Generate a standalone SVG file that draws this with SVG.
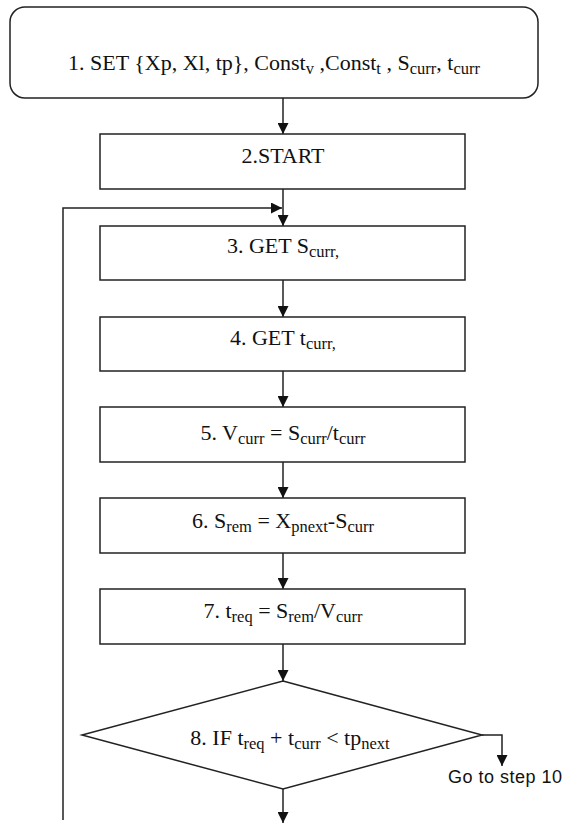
<svg xmlns="http://www.w3.org/2000/svg" width="569" height="823" viewBox="0 0 569 823">
<style>
  .box{fill:#fff;stroke:#222;stroke-width:1.5}
  .t{font-family:"Liberation Serif","Times New Roman",serif;font-size:22px;fill:#111}
  .s{font-size:16.5px}
  .lbl{font-family:"Liberation Sans",Arial,sans-serif;font-size:18px;fill:#111}
  .c{fill:none;stroke:#222;stroke-width:1.5}
</style>
<defs>
  <marker id="ah" markerUnits="userSpaceOnUse" markerWidth="11" markerHeight="11" viewBox="0 0 10 10" refX="10" refY="5" orient="auto">
    <path d="M0,0 L10,5 L0,10 z" fill="#111"/>
  </marker>
</defs>
<rect width="569" height="823" fill="#fff"/>
<g id="connectors">
  <path class="c" d="M283,98 V134" marker-end="url(#ah)"/>
  <path class="c" d="M283,189 V226" marker-end="url(#ah)"/>
  <path class="c" d="M63,820 V208 H282" marker-end="url(#ah)"/>
  <path class="c" d="M283,280 V317" marker-end="url(#ah)"/>
  <path class="c" d="M283,371 V407" marker-end="url(#ah)"/>
  <path class="c" d="M283,462 V498" marker-end="url(#ah)"/>
  <path class="c" d="M283,553 V589" marker-end="url(#ah)"/>
  <path class="c" d="M283,644 V681" marker-end="url(#ah)"/>
  <path class="c" d="M482,735 H502 V766" marker-end="url(#ah)"/>
  <path class="c" d="M283,789 V823" marker-end="url(#ah)"/>
</g>
<g id="n1">
  <rect class="box" x="10" y="7" width="528" height="91" rx="15"/>
  <text class="t" x="274" y="70" text-anchor="middle">1. SET {Xp, Xl, tp}, Const<tspan class="s" dy="4">v</tspan><tspan dy="-4"> ,Const</tspan><tspan class="s" dy="4">t</tspan><tspan dy="-4"> , S</tspan><tspan class="s" dy="4">curr</tspan><tspan dy="-4">, t</tspan><tspan class="s" dy="4">curr</tspan></text>
</g>
<g id="n2">
  <rect class="box" x="100" y="134" width="365" height="55"/>
  <text class="t" x="283" y="163" text-anchor="middle">2.START</text>
</g>
<g id="n3">
  <rect class="box" x="100" y="226" width="365" height="54"/>
  <text class="t" x="283" y="253" text-anchor="middle">3. GET S<tspan class="s" dy="4">curr,</tspan></text>
</g>
<g id="n4">
  <rect class="box" x="100" y="317" width="365" height="54"/>
  <text class="t" x="283" y="345" text-anchor="middle">4. GET t<tspan class="s" dy="4">curr,</tspan></text>
</g>
<g id="n5">
  <rect class="box" x="100" y="407" width="365" height="55"/>
  <text class="t" x="283" y="440" text-anchor="middle">5. V<tspan class="s" dy="4">curr</tspan><tspan dy="-4"> = S</tspan><tspan class="s" dy="4">curr</tspan><tspan dy="-4">/t</tspan><tspan class="s" dy="4">curr</tspan></text>
</g>
<g id="n6">
  <rect class="box" x="100" y="498" width="365" height="55"/>
  <text class="t" x="283" y="528" text-anchor="middle">6. S<tspan class="s" dy="4">rem</tspan><tspan dy="-4"> = X</tspan><tspan class="s" dy="4">pnext</tspan><tspan dy="-4">-S</tspan><tspan class="s" dy="4">curr</tspan></text>
</g>
<g id="n7">
  <rect class="box" x="100" y="589" width="365" height="55"/>
  <text class="t" x="283" y="618" text-anchor="middle">7. t<tspan class="s" dy="4">req</tspan><tspan dy="-4"> = S</tspan><tspan class="s" dy="4">rem</tspan><tspan dy="-4">/V</tspan><tspan class="s" dy="4">curr</tspan></text>
</g>
<g id="n8">
  <polygon class="box" points="283,681 482,735 283,789 82,735"/>
  <text class="t" x="290" y="745" text-anchor="middle">8. IF t<tspan class="s" dy="4">req</tspan><tspan dy="-4"> + t</tspan><tspan class="s" dy="4">curr</tspan><tspan dy="-4"> &lt; tp</tspan><tspan class="s" dy="4">next</tspan></text>
</g>
<g id="lbl">
  <text class="lbl" x="448" y="783" textLength="114">Go to step 10</text>
</g>
</svg>
